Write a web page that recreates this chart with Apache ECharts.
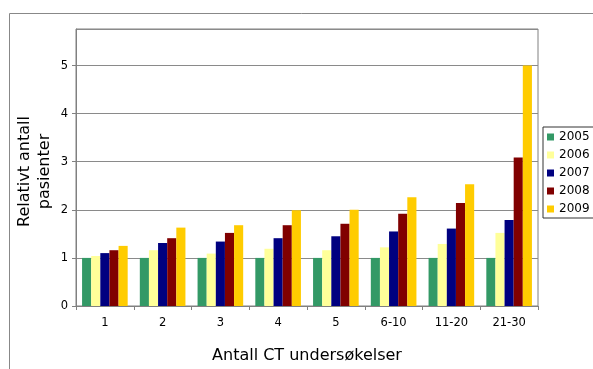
<!DOCTYPE html>
<html>
<head>
<meta charset="utf-8">
<script src="https://cdn.jsdelivr.net/npm/echarts@6/dist/echarts.min.js"></script>
<style>
  html, body { margin: 0; padding: 0; background: #fff; }
  #chart { width: 593px; height: 369px; }
</style>
</head>
<body>
<div id="chart"></div>
<script>
// Relative number of patients by number of CT examinations, per year (2005 = 1)
const categories = ['1', '2', '3', '4', '5', '6-10', '11-20', '21-30'];
const years = ['2005', '2006', '2007', '2008', '2009'];
const v2005 = [1.00, 1.00, 1.00, 1.00, 1.00, 1.00, 1.00, 1.00];
const v2006 = [1.04, 1.16, 1.09, 1.19, 1.16, 1.22, 1.29, 1.52];
const v2007 = [1.10, 1.31, 1.34, 1.41, 1.45, 1.55, 1.61, 1.79];
const v2008 = [1.16, 1.41, 1.52, 1.68, 1.71, 1.92, 2.14, 3.09];
const v2009 = [1.25, 1.63, 1.68, 1.99, 2.00, 2.26, 2.53, 5.00];
const seriesValues = [v2005, v2006, v2007, v2008, v2009];
const colors = ['#339966', '#FFFF99', '#000080', '#800000', '#FFCC00'];
const yTitle = 'Relativt antall\npasienter';

const font = 'DejaVu Sans, Verdana, sans-serif';
const chart = echarts.init(document.getElementById('chart'), null, { renderer: 'canvas' });

chart.setOption({
  animation: false,
  backgroundColor: '#fff',
  textStyle: { fontFamily: font },
  graphic: [{
    type: 'rect',
    shape: { x: 9.5, y: 13.5, width: 700, height: 400 },
    style: { fill: 'none', stroke: '#888', lineWidth: 1 },
    silent: true
  }, {
    // vertical value-axis title
    type: 'text',
    x: 35, y: 171.5,
    rotation: Math.PI / 2,
    style: {
      text: yTitle,
      font: '16px ' + font,
      fill: '#000',
      align: 'center',
      verticalAlign: 'middle',
      lineHeight: 20
    },
    silent: true
  }],
  grid: {
    left: 76, top: 29, width: 462, height: 285,
    show: true, borderColor: '#808080', borderWidth: 1, backgroundColor: 'transparent'
  },
  legend: {
    orient: 'vertical',
    left: 543, top: 127,
    data: years,
    icon: 'rect',
    itemWidth: 7, itemHeight: 7, itemGap: 4,
    padding: [3, 4, 2, 4],
    borderColor: '#333', borderWidth: 1,
    textStyle: { fontFamily: font, fontSize: 12, color: '#000', lineHeight: 14 }
  },
  xAxis: {
    type: 'category',
    data: categories,
    name: 'Antall CT undersøkelser',
    nameLocation: 'middle',
    nameGap: 42,
    nameTextStyle: { fontFamily: font, fontSize: 16, color: '#000' },
    axisLine: { lineStyle: { color: '#808080' } },
    axisTick: { show: true, length: 4, lineStyle: { color: '#808080' } },
    axisLabel: { fontFamily: font, fontSize: 11.5, color: '#000', margin: 11 },
    splitLine: { show: false }
  },
  yAxis: {
    type: 'value',
    min: 0, max: 5.76, interval: 1,
    axisLine: { show: true, lineStyle: { color: '#808080' } },
    axisTick: { show: true, length: 4, lineStyle: { color: '#808080' } },
    axisLabel: { fontFamily: font, fontSize: 11.5, color: '#000', margin: 8, showMaxLabel: false },
    splitLine: { show: true, lineStyle: { color: '#8a8a8a', width: 1 } }
  },
  series: years.map((y, i) => ({
    name: y,
    type: 'bar',
    data: seriesValues[i],
    itemStyle: { color: colors[i] },
    barGap: '0%',
    barCategoryGap: '21%'
  }))
});
</script>
</body>
</html>
